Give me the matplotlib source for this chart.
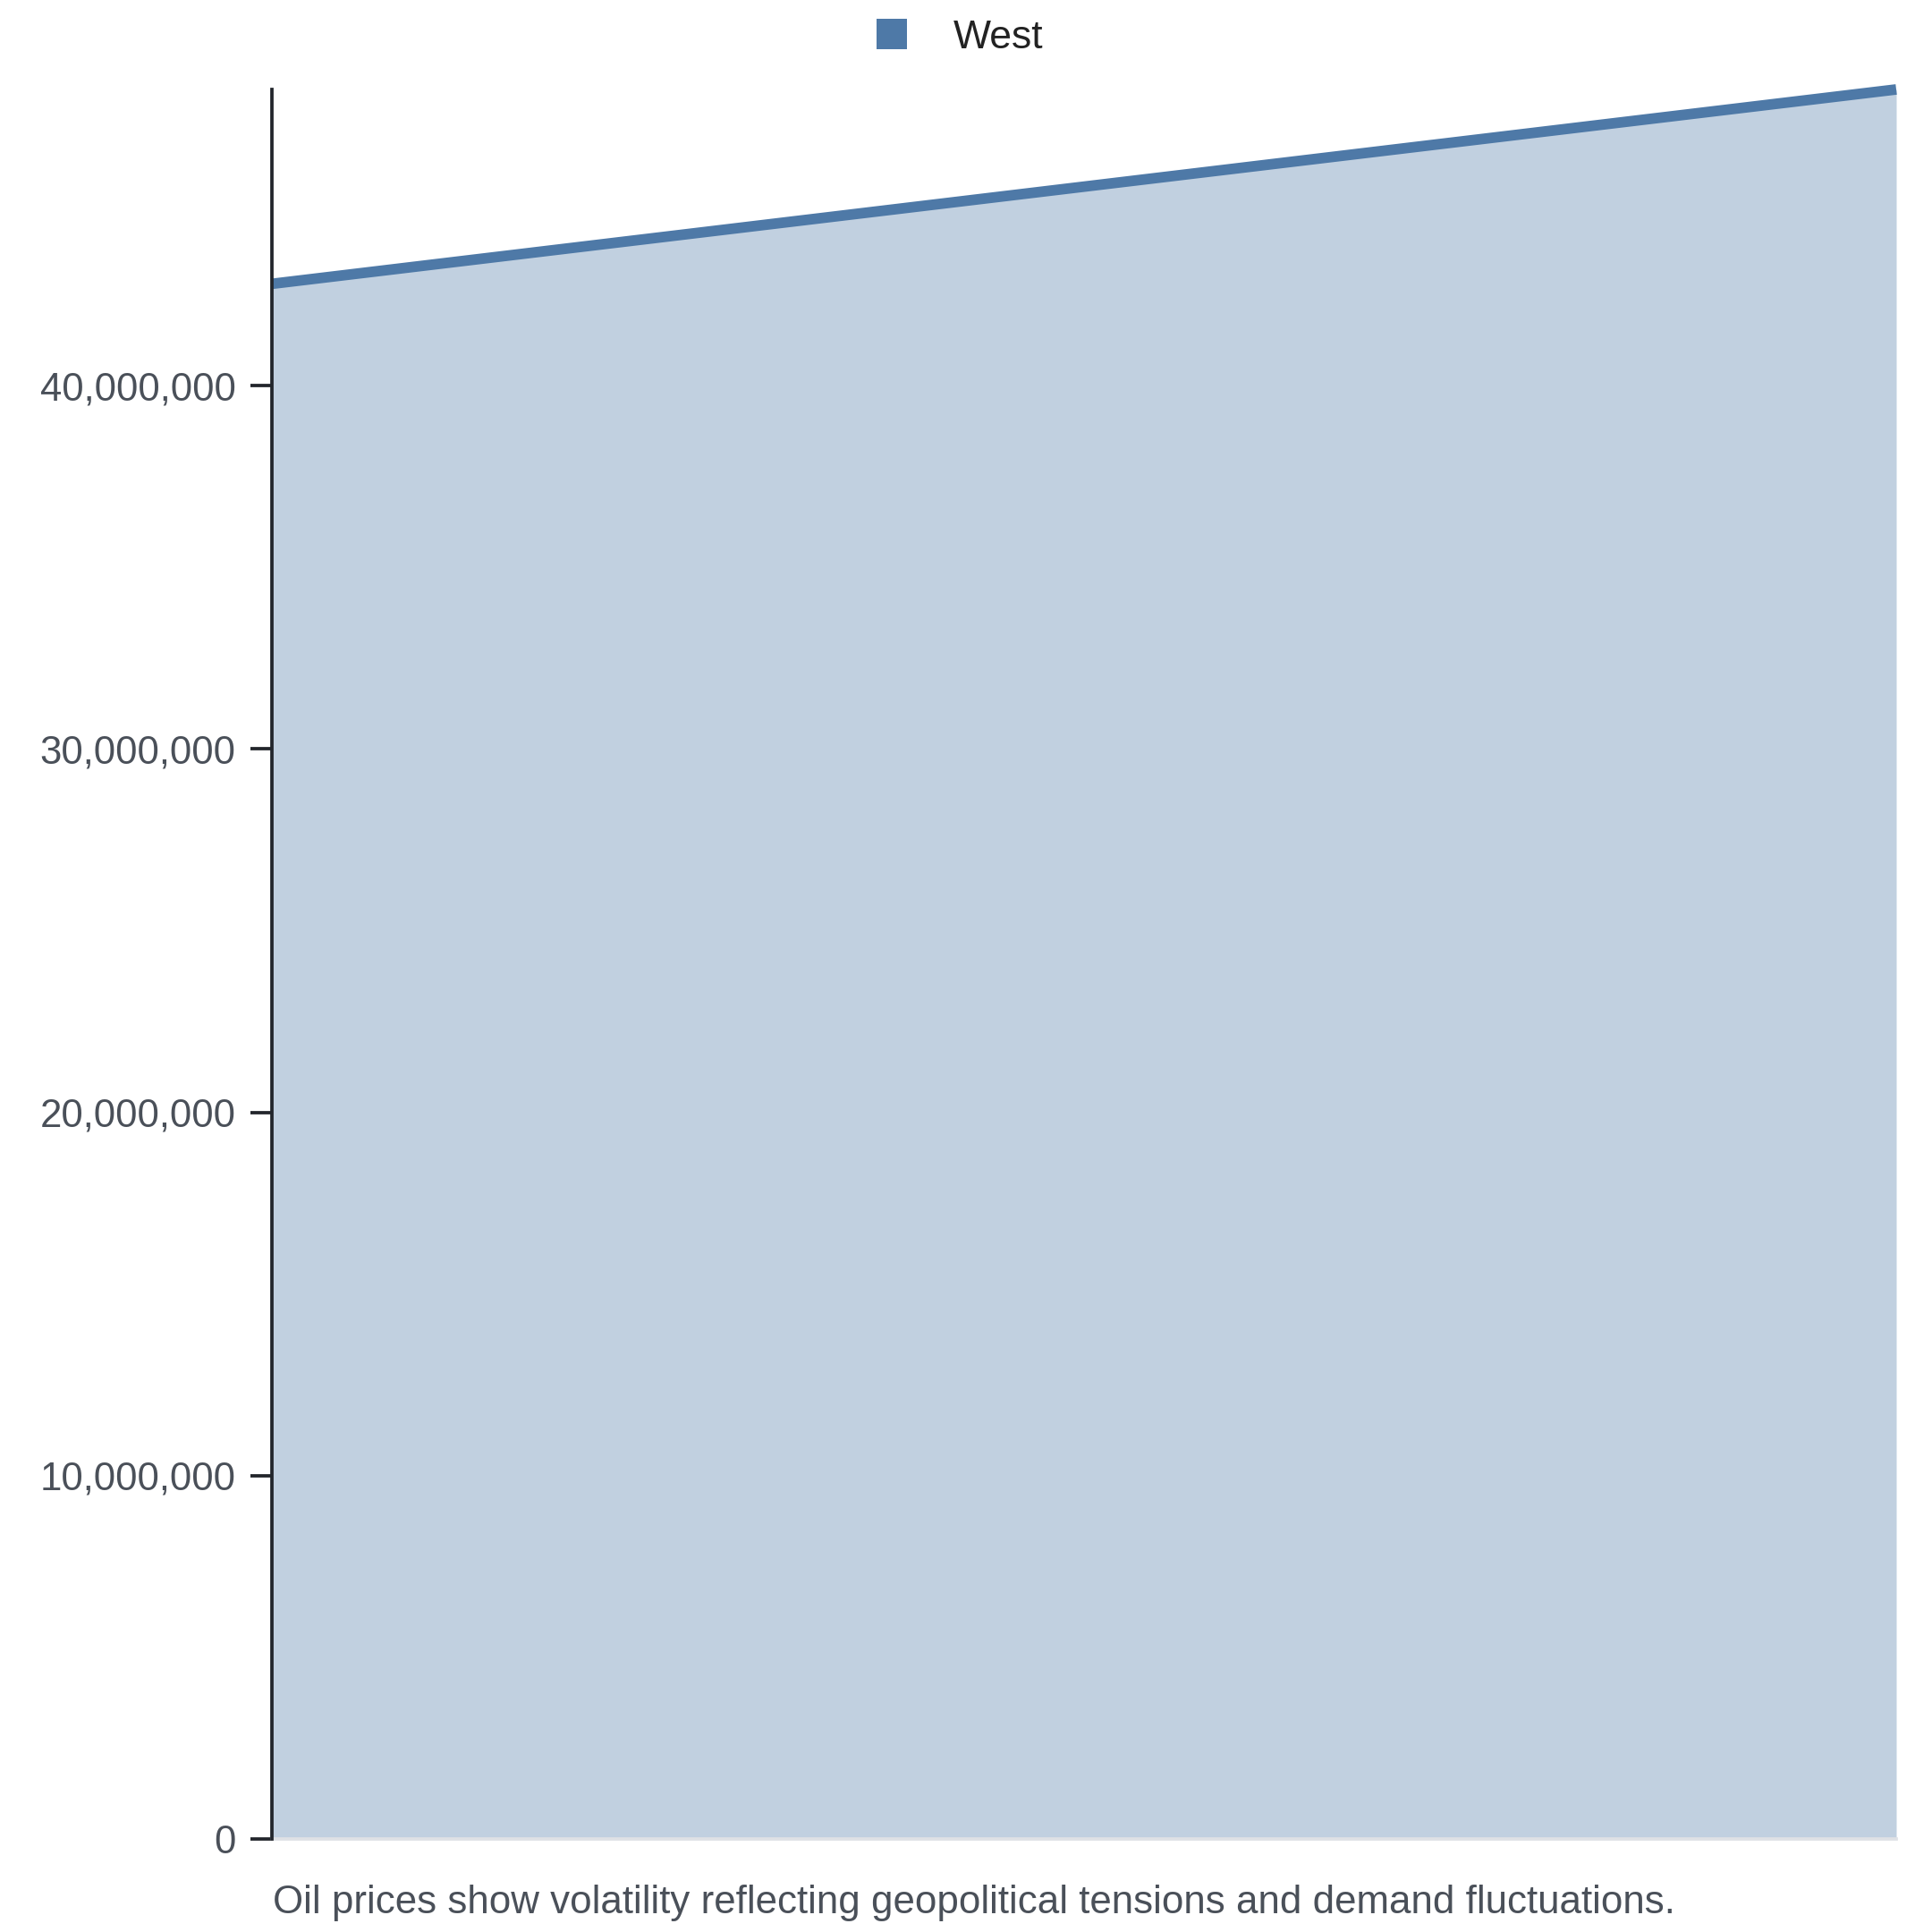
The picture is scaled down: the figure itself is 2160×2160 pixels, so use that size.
import matplotlib
matplotlib.use("Agg")
import matplotlib.pyplot as plt
from matplotlib.patches import Patch
from matplotlib.ticker import FuncFormatter

plt.rcParams['font.family'] = ['Liberation Sans', 'DejaVu Sans']

series_name = "West"
x_points = [0, 1]
west_values = [42800000, 48150000]
y_ticks = [0, 10000000, 20000000, 30000000, 40000000]
caption = "Oil prices show volatility reflecting geopolitical tensions and demand fluctuations."

line_color = "#4e79a7"
tick_color = "#4a5059"
spine_color = "#22252b"

fig = plt.figure(figsize=(21.6, 21.6), dpi=100)
ax = fig.add_axes([304/2160, 1 - 2056/2160, (2120-304)/2160, (2056-100)/2160])

ax.fill_between(x_points, west_values, 0, color=line_color, alpha=0.35, linewidth=0)
ax.plot(x_points, west_values, color=line_color, linewidth=8.5, solid_capstyle='butt', clip_on=False)

ax.set_xlim(x_points[0], x_points[-1])
ax.set_ylim(0, max(west_values))
ax.set_yticks(y_ticks)
ax.yaxis.set_major_formatter(FuncFormatter(lambda v, p: f"{int(v):,}"))
ax.set_xticks([])

for s in ["top", "right"]:
    ax.spines[s].set_visible(False)
ax.spines["left"].set_color(spine_color)
ax.spines["left"].set_linewidth(2.7)
ax.spines["bottom"].set_color("#dfe1e5")
ax.spines["bottom"].set_linewidth(2.7)
ax.spines["left"].set_zorder(5)

ax.tick_params(axis='y', length=17, width=2.7, color=spine_color, pad=12,
               labelsize=31.5, labelcolor=tick_color)

handle = Patch(facecolor=line_color, edgecolor='none', label=series_name)
leg = fig.legend(handles=[handle], loc='center', bbox_to_anchor=(1073/2160, 1 - 42/2160),
                 frameon=False, fontsize=32, handlelength=0.77, handleheight=0.77,
                 handletextpad=1.15, labelcolor="#222222")

fig.text(305/2160, 1 - 2127/2160, caption, fontsize=31.6, color=tick_color,
         ha='left', va='center')

fig.savefig("out.png", dpi=100)
